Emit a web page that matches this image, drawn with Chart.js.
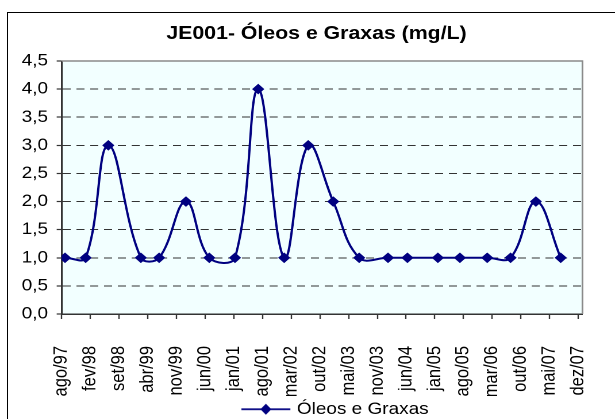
<!DOCTYPE html>
<html lang="pt">
<head>
<meta charset="utf-8">
<title>JE001 - Óleos e Graxas</title>
<script src="https://cdn.jsdelivr.net/npm/chart.js@4/dist/chart.umd.min.js"></script>
<style>
  html, body { margin: 0; padding: 0; background: #fff; overflow: hidden; }
  #wrap { width: 615px; height: 419px; position: relative; overflow: hidden; }
  /* grafico desenhado mais estreito e esticado na horizontal */
  #grafico { display: block; transform: scaleX(1.1495); transform-origin: 0 0; }
</style>
</head>
<body>
<div id="wrap"><canvas id="grafico" width="535" height="419"></canvas></div>
<script>
// datas de coleta e resultados (mg/L)
const dataColeta = ['1997-08-25', '1998-01-23', '1998-07-08', '1999-03-03', '1999-07-15',
                    '2000-01-27', '2000-07-16', '2001-01-20', '2001-07-09', '2002-01-15',
                    '2002-07-10', '2003-01-09', '2003-07-18', '2004-02-14', '2004-07-05',
                    '2005-02-13', '2005-07-24', '2006-02-09', '2006-07-30', '2007-01-31',
                    '2007-08-01'];
const oleosGraxas = [1, 1, 3, 1, 1, 2, 1, 1, 4, 1, 3, 2, 1, 1, 1, 1, 1, 1, 1, 2, 1];

// eixo de datas: inicio em 01/08/1997, marcas a cada 210 dias
const rotulosX = ['ago/97', 'fev/98', 'set/98', 'abr/99', 'nov/99', 'jun/00', 'jan/01',
                  'ago/01', 'mar/02', 'out/02', 'mai/03', 'nov/03', 'jun/04', 'jan/05',
                  'ago/05', 'mar/06', 'out/06', 'mai/07', 'dez/07'];
const rotulosY = ['0,0', '0,5', '1,0', '1,5', '2,0', '2,5', '3,0', '3,5', '4,0', '4,5'];

const inicioEixo = Date.UTC(1997, 7, 1);
const passoDias = 210;
const fimEixo = 3811;
const DIA = 86400000;

function dias(s) {
  const [a, m, d] = s.split('-').map(Number);
  return (Date.UTC(a, m - 1, d) - inicioEixo) / DIA;
}

const pontos = dataColeta.map((d, i) => ({ x: dias(d), y: oleosGraxas[i] }));
const azul = '#000080';
const fonte = '"Liberation Sans", Arial, Helvetica, sans-serif';

// simbolo da legenda: linha com losango
function simboloLegenda() {
  const w = 46, h = 12, r = 2;
  const c = document.createElement('canvas');
  c.width = w * r; c.height = h * r;
  const g = c.getContext('2d');
  g.scale(r, r);
  g.strokeStyle = azul;
  g.lineWidth = 1.8;
  g.beginPath(); g.moveTo(3, h / 2); g.lineTo(45.6, h / 2); g.stroke();
  const cx = 24.3, cy = h / 2;
  g.fillStyle = azul;
  g.beginPath();
  g.moveTo(cx - 4.8, cy); g.lineTo(cx, cy - 5.5); g.lineTo(cx + 4.8, cy); g.lineTo(cx, cy + 5.5);
  g.closePath(); g.fill();
  const img = new Image(w, h);
  img.src = c.toDataURL();
  return img;
}
const iconeLegenda = simboloLegenda();

const fundoGrafico = {
  id: 'fundoGrafico',
  beforeDraw(chart) {
    const { ctx, chartArea: a } = chart;
    ctx.save();
    ctx.fillStyle = '#F2FFFF';
    ctx.fillRect(a.left, a.top, a.right - a.left, a.bottom - a.top);
    ctx.restore();
  },
  beforeDatasetsDraw(chart) {
    const { ctx, chartArea: a } = chart;
    ctx.save();
    ctx.strokeStyle = '#8a8a8a';
    ctx.lineWidth = 1.5;
    ctx.beginPath();
    ctx.moveTo(a.left, a.top);
    ctx.lineTo(a.right, a.top);
    ctx.lineTo(a.right, a.bottom);
    ctx.stroke();
    ctx.restore();
  },
  afterLayout(chart) {
    // titulo e legenda deslocados para a direita
    if (chart.titleBlock) {
      chart.titleBlock.left += 22;
      chart.titleBlock.right += 22;
    }
    if (chart.legend) {
      chart.legend.left += 205;
      chart.legend.right += 205;
    }
  },
  afterDraw(chart) {
    const { ctx, width, height } = chart;
    ctx.save();
    ctx.strokeStyle = '#000';
    ctx.lineWidth = 1;
    ctx.beginPath();
    ctx.moveTo(6.5, height + 1);
    ctx.lineTo(6.5, 12.5);
    ctx.lineTo(width + 1, 12.5);
    ctx.stroke();
    ctx.restore();
  }
};

const chart = new Chart(document.getElementById('grafico'), {
  type: 'line',
  data: {
    datasets: [{
      label: 'Óleos e Graxas',
      data: pontos,
      borderColor: azul,
      backgroundColor: azul,
      borderWidth: 2,
      tension: 0.4,
      pointStyle: 'rectRot',
      pointRadius: 4.6,
      pointBorderWidth: 1,
      pointBackgroundColor: azul,
      pointBorderColor: azul
    }]
  },
  options: {
    responsive: false,
    animation: false,
    devicePixelRatio: 2,
    layout: { padding: { top: 0, left: 0, right: 28.3, bottom: -8.5 } },
    plugins: {
      title: {
        display: true,
        text: 'JE001- Óleos e Graxas (mg/L)',
        color: '#000',
        font: { family: fonte, size: 18.5, weight: 'bold' },
        padding: { top: 22.6, bottom: 16.2 }
      },
      legend: {
        display: true,
        position: 'bottom',
        align: 'start',
        labels: {
          usePointStyle: true,
          pointStyle: iconeLegenda,
          pointStyleWidth: 40,
          padding: 5,
          color: '#000',
          font: { family: fonte, size: 16.5 }
        }
      },
      tooltip: { enabled: false }
    },
    scales: {
      x: {
        type: 'linear',
        min: 0,
        max: fimEixo,
        afterBuildTicks(scale) {
          scale.ticks = rotulosX.map((_, i) => ({ value: i * passoDias }));
        },
        afterFit(scale) {
          scale.height = 82;
          scale.paddingLeft = 0;
          scale.paddingRight = 0;
        },
        ticks: {
          autoSkip: false,
          minRotation: 90,
          maxRotation: 90,
          padding: 27,
          color: '#000',
          font: { family: fonte, size: 16.5 },
          callback: (v, i) => rotulosX[i]
        },
        grid: { drawOnChartArea: false, drawTicks: true, tickLength: 5, color: '#333', tickWidth: 1.2 },
        border: { display: true, color: '#333', width: 1.5 }
      },
      y: {
        min: 0,
        max: 4.5,
        afterFit(scale) { scale.width = 53.7; },
        ticks: {
          stepSize: 0.5,
          padding: 7.5,
          color: '#000',
          font: { family: fonte, size: 16.5 },
          callback: (v, i) => rotulosY[i]
        },
        grid: {
          color: (c) => (c.tick && (c.tick.value === 0 || c.tick.value === 4.5)) ? 'transparent' : '#333',
          lineWidth: 1,
          tickLength: 4.4,
          tickColor: '#333',
          tickWidth: 1.2
        },
        border: { display: true, color: '#333', width: 1.5, dash: [7, 5] }
      }
    }
  },
  plugins: [fundoGrafico]
});

iconeLegenda.onload = () => chart.draw();
</script>
</body>
</html>
